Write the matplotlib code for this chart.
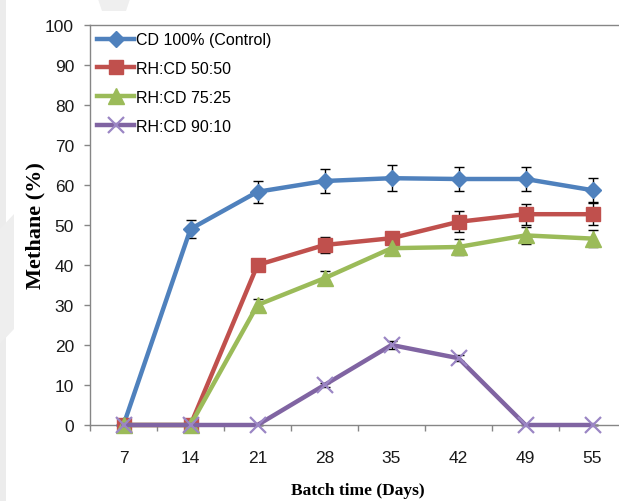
import matplotlib
matplotlib.use("Agg")
import matplotlib.pyplot as plt
from matplotlib.patches import Polygon
from matplotlib.ticker import FixedLocator

# ---- data ----
days = ["7", "14", "21", "28", "35", "42", "49", "55"]
series_names = ["CD 100% (Control)", "RH:CD 50:50", "RH:CD 75:25", "RH:CD 90:10"]
cd100 = [0, 49.0, 58.3, 61.0, 61.7, 61.5, 61.5, 58.7]
cd100_err = [0, 2.3, 2.8, 3.0, 3.2, 3.0, 3.0, 3.0]
rh50 = [0, 0, 40.0, 45.0, 46.7, 50.8, 52.7, 52.7]
rh50_err = [0, 0, 0.4, 2.0, 0.5, 2.6, 2.6, 2.8]
rh75 = [0, 0, 30.0, 36.7, 44.2, 44.5, 47.4, 46.6]
rh75_err = [0, 0, 1.5, 1.8, 1.0, 2.0, 2.1, 2.2]
rh90 = [0, 0, 0, 10.0, 20.0, 16.7, 0, 0]
rh90_err = [0, 0, 0, 0.5, 1.0, 0.8, 0, 0]

W, H = 619, 502
fig = plt.figure(figsize=(W / 100, H / 100), dpi=100)
fig.patch.set_facecolor("white")

# faint watermark shapes in background
fig.patches.append(Polygon([[0, 0], [6 / W, 0], [6 / W, 1], [0, 1]], closed=True,
                           transform=fig.transFigure, facecolor="#ececec", edgecolor="none", zorder=0))
fig.patches.append(Polygon([[98 / W, 1], [130 / W, 1], [126 / W, 1 - 12 / H], [102 / W, 1 - 12 / H]],
                           closed=True, transform=fig.transFigure, facecolor="#efefef",
                           edgecolor="none", zorder=0))
fig.patches.append(Polygon([[0, 1 - 230 / H], [14 / W, 1 - 215 / H], [14 / W, 1 - 330 / H], [0, 1 - 345 / H]],
                           closed=True, transform=fig.transFigure, facecolor="#eeeeee",
                           edgecolor="none", zorder=0))

left_px, right_px, top_px, bot_px = 90, 626, 26, 426
ax = fig.add_axes([left_px / W, 1 - bot_px / H, (right_px - left_px) / W, (bot_px - top_px) / H])
ax.set_facecolor("none")

tick_font = ["Liberation Sans", "DejaVu Sans"]
x = list(range(len(days)))

styles = [
    (cd100, cd100_err, "#4F81BD", "D", 8.2, dict()),
    (rh50, rh50_err, "#C0504D", "s", 10.5, dict()),
    (rh75, rh75_err, "#9BBB59", "^", 11.5, dict()),
    (rh90, rh90_err, "#8064A2", "x", 11, dict(markeredgewidth=1.6)),
]

handles = []
for (vals, errs, col, mk, ms, extra), name in zip(styles, series_names):
    mec = col if mk != "x" else "#9B86C4"
    ax.errorbar(x, vals, yerr=errs, fmt="none", ecolor="black", elinewidth=1.0,
                capsize=3.5, capthick=1.0, zorder=2, clip_on=False)
    ln, = ax.plot(x, vals, color=col, lw=3.2, marker=mk, markersize=ms,
                  markerfacecolor=col, markeredgecolor=mec, label=name, zorder=3,
                  clip_on=False, **extra)
    handles.append(ln)

ax.set_xlim(-0.5, len(days) - 0.5)
ax.set_ylim(0, 100)
ax.set_yticks(range(0, 101, 10))
ax.set_xticks(x)
ax.set_xticklabels(days)
ax.xaxis.set_minor_locator(FixedLocator([i + 0.5 for i in range(-1, len(days))]))

for s in ["left", "top", "bottom"]:
    ax.spines[s].set_color("#868686")
    ax.spines[s].set_linewidth(1.0)
ax.spines["right"].set_visible(False)

ax.tick_params(axis="y", which="major", direction="out", length=4.5, width=1.0,
               color="#868686", pad=7, labelsize=12.5, labelcolor="#1a1a1a")
ax.tick_params(axis="x", which="major", length=0, pad=18, labelsize=12.5, labelcolor="#1a1a1a")
ax.tick_params(axis="x", which="minor", direction="out", length=4.5, width=1.0, color="#868686")
for lab in ax.get_xticklabels() + ax.get_yticklabels():
    lab.set_family(tick_font)

ax.set_xlabel("Batch time (Days)", family=["Liberation Serif", "DejaVu Serif"],
              fontweight="bold", fontsize=12.5, labelpad=12)
ax.set_ylabel("Methane (%)", family=["Liberation Serif", "DejaVu Serif"],
              fontweight="bold", fontsize=16)
ax.yaxis.set_label_coords(-(left_px - 45) / (right_px - left_px), 0.5)

leg = ax.legend(handles=handles, loc="upper left", bbox_to_anchor=(0.0, 1.0),
                frameon=False, prop={"family": tick_font, "size": 11.5},
                handlelength=2.3, handletextpad=0.15, labelspacing=0.87,
                borderaxespad=0.3, borderpad=0.15)

fig.savefig("out.png", dpi=100, facecolor="white")
